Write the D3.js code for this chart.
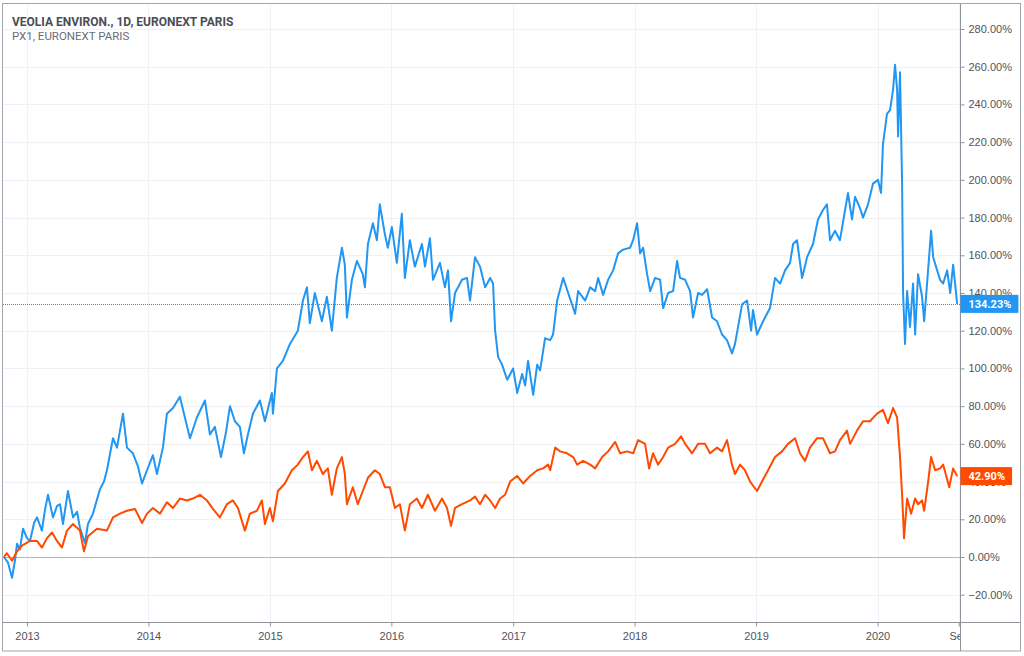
<!DOCTYPE html>
<html>
<head>
<meta charset="utf-8">
<script src="https://cdn.jsdelivr.net/npm/d3@7"></script>
<style>
  html, body { margin: 0; padding: 0; background: #fff; }
  svg { display: block; font-family: Roboto, "Open Sans", sans-serif; }
</style>
</head>
<body>
<svg id="chart"></svg>
<script>
// values; dates are decimal years, values are % change
const veoliaT = [2012.811, 2012.844, 2012.877, 2012.901, 2012.918, 2012.942, 2012.967, 2013.000, 2013.025, 2013.058,
  2013.082, 2013.123, 2013.148, 2013.173, 2013.214, 2013.247, 2013.272, 2013.296, 2013.337, 2013.379,
  2013.412, 2013.436, 2013.477, 2013.502, 2013.543, 2013.601, 2013.634, 2013.658, 2013.708, 2013.741,
  2013.790, 2013.823, 2013.872, 2013.914, 2013.947, 2013.988, 2014.037, 2014.070, 2014.119, 2014.152,
  2014.202, 2014.259, 2014.300, 2014.342, 2014.399, 2014.465, 2014.506, 2014.547, 2014.597, 2014.638,
  2014.671, 2014.712, 2014.753, 2014.786, 2014.819, 2014.860, 2014.918, 2014.959, 2015.016, 2015.025,
  2015.058, 2015.107, 2015.165, 2015.230, 2015.272, 2015.305, 2015.329, 2015.370, 2015.428, 2015.469,
  2015.510, 2015.551, 2015.593, 2015.617, 2015.634, 2015.675, 2015.716, 2015.765, 2015.782, 2015.807,
  2015.848, 2015.881, 2015.905, 2015.947, 2015.971, 2016.004, 2016.045, 2016.086, 2016.111, 2016.152,
  2016.193, 2016.251, 2016.276, 2016.317, 2016.342, 2016.399, 2016.440, 2016.465, 2016.490, 2016.523,
  2016.580, 2016.621, 2016.646, 2016.687, 2016.728, 2016.770, 2016.811, 2016.835, 2016.852, 2016.877,
  2016.909, 2016.951, 2017.000, 2017.033, 2017.074, 2017.099, 2017.123, 2017.165, 2017.198, 2017.222,
  2017.263, 2017.305, 2017.329, 2017.362, 2017.412, 2017.453, 2017.510, 2017.535, 2017.593, 2017.634,
  2017.675, 2017.700, 2017.741, 2017.782, 2017.823, 2017.864, 2017.905, 2017.963, 2017.988, 2018.021,
  2018.045, 2018.070, 2018.103, 2018.128, 2018.169, 2018.210, 2018.235, 2018.276, 2018.317, 2018.350,
  2018.374, 2018.416, 2018.457, 2018.481, 2018.523, 2018.556, 2018.597, 2018.638, 2018.679, 2018.720,
  2018.761, 2018.802, 2018.827, 2018.852, 2018.885, 2018.926, 2018.959, 2018.975, 2019.008, 2019.058,
  2019.115, 2019.156, 2019.198, 2019.239, 2019.280, 2019.305, 2019.337, 2019.379, 2019.420, 2019.469,
  2019.510, 2019.551, 2019.584, 2019.609, 2019.650, 2019.691, 2019.733, 2019.757, 2019.790, 2019.815,
  2019.856, 2019.881, 2019.922, 2019.963, 2020.004, 2020.029, 2020.045, 2020.078, 2020.103, 2020.128,
  2020.144, 2020.161, 2020.169, 2020.185, 2020.202, 2020.210, 2020.226, 2020.243, 2020.267, 2020.292,
  2020.309, 2020.333, 2020.366, 2020.383, 2020.407, 2020.440, 2020.457, 2020.490, 2020.514, 2020.539,
  2020.572, 2020.597, 2020.621, 2020.654];
const veoliaV = [0, -3, -11, -2, 7, 4, 15, 10, 8.5, 18,
  21, 14, 25, 33, 21, 27, 28, 17.5, 35, 21,
  24, 15.5, 7.4, 17.5, 23, 36, 40, 46, 63, 58,
  76, 58, 55, 48, 39, 46, 54, 44, 58, 76,
  79, 85, 74, 63, 74, 83, 65, 69, 53, 66,
  80, 72, 69, 55, 65, 76, 83, 72, 87, 76,
  100, 104, 113, 120, 136, 143, 124, 140, 125, 138,
  120, 148, 164, 155, 127, 147, 157, 150, 143, 166,
  177, 168, 187, 171, 164, 175, 156, 182, 148, 168,
  154, 166, 154, 169, 147, 156, 143, 152, 125, 140,
  147, 148, 136, 159, 154, 143, 148, 145, 120, 106,
  102, 94, 100, 87, 97, 91, 104, 86, 102, 99,
  116, 115, 118, 136, 148, 140, 129, 141, 136, 143,
  141, 148, 139, 147, 152, 161, 163, 164, 168, 177,
  161, 164, 150, 141, 148, 147, 132, 140, 141, 157,
  148, 147, 141, 127, 140, 139, 142, 127, 125, 118,
  115, 108, 113, 122, 134, 136, 120, 131, 118, 125,
  132, 148, 145, 152, 156, 166, 168, 148, 159, 166,
  179, 184, 187, 168, 173, 168, 184, 193, 179, 191,
  185, 180, 187, 198, 200, 193, 219, 235, 237, 248,
  261, 248, 223, 257, 198, 140, 113, 141, 122, 145,
  118, 150, 138, 125, 145, 173, 159, 152, 147, 145,
  152, 140, 155, 134.23];

const px1T = [2012.811, 2012.835, 2012.877, 2012.918, 2012.959, 2013.025, 2013.082, 2013.123, 2013.165, 2013.206,
  2013.247, 2013.288, 2013.329, 2013.379, 2013.436, 2013.469, 2013.502, 2013.576, 2013.658, 2013.708,
  2013.765, 2013.823, 2013.889, 2013.947, 2013.988, 2014.037, 2014.095, 2014.152, 2014.202, 2014.259,
  2014.317, 2014.366, 2014.424, 2014.481, 2014.531, 2014.588, 2014.646, 2014.695, 2014.737, 2014.794,
  2014.835, 2014.893, 2014.934, 2014.959, 2015.000, 2015.025, 2015.066, 2015.123, 2015.181, 2015.230,
  2015.272, 2015.313, 2015.346, 2015.387, 2015.436, 2015.477, 2015.510, 2015.551, 2015.593, 2015.617,
  2015.634, 2015.683, 2015.724, 2015.765, 2015.807, 2015.864, 2015.905, 2015.947, 2015.988, 2016.029,
  2016.070, 2016.111, 2016.152, 2016.210, 2016.251, 2016.300, 2016.358, 2016.416, 2016.457, 2016.490,
  2016.523, 2016.580, 2016.646, 2016.687, 2016.728, 2016.770, 2016.811, 2016.852, 2016.893, 2016.934,
  2016.975, 2017.033, 2017.082, 2017.140, 2017.198, 2017.247, 2017.288, 2017.305, 2017.346, 2017.387,
  2017.444, 2017.494, 2017.527, 2017.576, 2017.634, 2017.675, 2017.733, 2017.782, 2017.840, 2017.881,
  2017.938, 2017.988, 2018.029, 2018.086, 2018.119, 2018.152, 2018.193, 2018.235, 2018.276, 2018.333,
  2018.383, 2018.416, 2018.473, 2018.523, 2018.580, 2018.621, 2018.679, 2018.720, 2018.761, 2018.802,
  2018.827, 2018.868, 2018.909, 2018.951, 2019.008, 2019.049, 2019.099, 2019.156, 2019.214, 2019.263,
  2019.321, 2019.362, 2019.403, 2019.444, 2019.502, 2019.551, 2019.609, 2019.650, 2019.691, 2019.749,
  2019.774, 2019.831, 2019.881, 2019.938, 2019.996, 2020.045, 2020.086, 2020.128, 2020.161, 2020.185,
  2020.202, 2020.218, 2020.243, 2020.276, 2020.309, 2020.333, 2020.366, 2020.383, 2020.416, 2020.440,
  2020.473, 2020.514, 2020.539, 2020.589, 2020.621, 2020.654];
const px1V = [0, 2, -2, 3, 6, 8.5, 8.5, 5, 10, 13,
  8.5, 5, 14, 17.5, 14, 3, 11, 15, 14, 21,
  23, 24.5, 25.5, 18, 23, 26, 23, 29, 26, 31,
  30, 31, 33, 30, 25.5, 21, 28, 30, 26, 14,
  23, 24.5, 30, 17.5, 26, 19, 35, 39, 46, 49,
  53, 56, 46, 51, 44, 47, 33, 47, 53, 44,
  28, 37, 28, 35, 42, 46, 44, 37, 37, 26,
  28, 14, 28, 31, 26, 33, 24.5, 31, 26, 16.5,
  26, 28, 30, 32, 28, 33, 30, 26, 31, 33,
  40, 43, 39, 43, 46, 47, 49, 46, 58, 56,
  55, 53, 49, 51, 49, 47, 53, 56, 61, 55,
  56, 55, 62, 60, 47, 55, 49, 53, 58, 60,
  64, 60, 55, 60, 60, 55, 58, 56, 62, 49,
  44, 49, 46, 40, 35, 40, 46, 53, 56, 60,
  63, 55, 51, 58, 63, 63, 55, 56, 62, 67,
  60, 67, 72, 72, 76, 78, 71, 79, 74, 53,
  33, 10, 31, 23, 31, 28, 30, 24.5, 40, 53,
  46, 47, 49, 37, 47, 42.90];

const yTicks = [-20, 0, 20, 40, 60, 80, 100, 120, 140, 160, 180, 200, 220, 240, 260, 280];
const xTicks = ["2013-01-01", "2014-01-01", "2015-01-01", "2016-01-01", "2017-01-01",
  "2018-01-01", "2019-01-01", "2020-01-01", "2020-09-01"];
const xTickLabels = ["2013", "2014", "2015", "2016", "2017", "2018", "2019", "2020", "Sep"];
const veoliaLast = 134.23;
const px1Last = 42.90;
const titleMain = "VEOLIA ENVIRON., 1D, EURONEXT PARIS";
const titleSub = "PX1, EURONEXT PARIS";

const width = 1024, height = 656;
const plot = { left: 3, top: 3, right: 960.5, bottom: 622.5 };
const frame = { left: 2.5, top: 3.5, right: 1020.5, bottom: 651 };
const blue = "#2196f3", orange = "#ff4a00";
const textColor = "#50535e", lineColor = "#8f929b", gridColor = "#eff1f7";

function fromDecimalYear(t) {
  const yr = Math.floor(t);
  const a = new Date(yr, 0, 1), b = new Date(yr + 1, 0, 1);
  return new Date(+a + (t - yr) * (b - a));
}
const parse = d3.timeParse("%Y-%m-%d");

const veolia = veoliaT.map((t, i) => ({ date: fromDecimalYear(t), value: veoliaV[i] }));
const px1 = px1T.map((t, i) => ({ date: fromDecimalYear(t), value: px1V[i] }));
const tickDates = xTicks.map(parse);

const svg = d3.select("#chart").attr("width", width).attr("height", height);

const x = d3.scaleTime()
  .domain([new Date(2013, 0, 1), new Date(2020, 0, 1)])
  .range([27, 877.5]);
const y = d3.scaleLinear()
  .domain([0, 280])
  .range([557, 29]);

const defs = svg.append("defs");
defs.append("clipPath").attr("id", "plotclip")
  .append("rect")
  .attr("x", plot.left).attr("y", plot.top)
  .attr("width", plot.right - plot.left).attr("height", plot.bottom - plot.top);
//clip for x labels, in the translated axis group's own coordinates
defs.append("clipPath").attr("id", "xclip")
  .append("rect").attr("x", 0).attr("y", 0).attr("width", plot.right).attr("height", 28);

//grid
const grid = svg.append("g").attr("clip-path", "url(#plotclip)");
grid.selectAll(".vgrid").data(tickDates).enter().append("line")
  .attr("x1", d => Math.round(x(d)) + 0.5).attr("x2", d => Math.round(x(d)) + 0.5)
  .attr("y1", plot.top).attr("y2", plot.bottom)
  .attr("stroke", gridColor);
grid.selectAll(".hgrid").data(yTicks.filter(d => d !== 0)).enter().append("line")
  .attr("x1", plot.left).attr("x2", plot.right)
  .attr("y1", d => Math.round(y(d)) + 0.5).attr("y2", d => Math.round(y(d)) + 0.5)
  .attr("stroke", gridColor);

//zero line
svg.append("line")
  .attr("x1", plot.left).attr("x2", plot.right)
  .attr("y1", Math.round(y(0)) + 0.5).attr("y2", Math.round(y(0)) + 0.5)
  .attr("stroke", "#b4b7be");

//last value dotted line
svg.append("line")
  .attr("x1", plot.left).attr("x2", plot.right)
  .attr("y1", Math.round(y(veoliaLast)) + 0.5).attr("y2", Math.round(y(veoliaLast)) + 0.5)
  .attr("stroke", blue)
  .attr("stroke-dasharray", "1,1");

//series
const line = d3.line().x(d => x(d.date)).y(d => y(d.value));
const lines = svg.append("g").attr("clip-path", "url(#plotclip)");
lines.append("path").datum(veolia)
  .attr("d", line).attr("fill", "none")
  .attr("stroke", blue).attr("stroke-width", 2).attr("stroke-linejoin", "round");
lines.append("path").datum(px1)
  .attr("d", line).attr("fill", "none")
  .attr("stroke", orange).attr("stroke-width", 2).attr("stroke-linejoin", "round");

//axes
const yAxis = d3.axisRight(y)
  .tickValues(yTicks)
  .tickSize(4)
  .tickPadding(4)
  .tickFormat(d => d3.format(".2f")(d) + "%");
const yG = svg.append("g")
  .attr("transform", `translate(${plot.right},0)`)
  .call(yAxis);
yG.select(".domain").remove();
yG.selectAll("line").attr("stroke", lineColor);
yG.selectAll("text").attr("fill", textColor).style("font-size", "11px").attr("font-family", null);

const xAxis = d3.axisBottom(x)
  .tickValues(tickDates)
  .tickSize(4)
  .tickPadding(6)
  .tickFormat((d, i) => xTickLabels[i]);
const xG = svg.append("g")
  .attr("transform", `translate(0,${plot.bottom})`)
  .attr("clip-path", "url(#xclip)")
  .call(xAxis);
xG.select(".domain").remove();
xG.selectAll("line").attr("stroke", lineColor);
xG.selectAll("text").attr("fill", textColor).style("font-size", "11px").attr("font-family", null);

//frame and axis lines
svg.append("rect")
  .attr("x", frame.left).attr("y", frame.top)
  .attr("width", frame.right - frame.left).attr("height", frame.bottom - frame.top)
  .attr("fill", "none").attr("stroke", "#a3a6ae");
svg.append("line")
  .attr("x1", plot.right).attr("x2", plot.right)
  .attr("y1", frame.top).attr("y2", frame.bottom)
  .attr("stroke", lineColor);
svg.append("line")
  .attr("x1", frame.left).attr("x2", frame.right)
  .attr("y1", plot.bottom).attr("y2", plot.bottom)
  .attr("stroke", lineColor);

//last value labels
function lastLabel(value, color) {
  const g = svg.append("g").attr("transform", `translate(${plot.right},${y(value)})`);
  const t = g.append("text")
    .attr("x", 8).attr("dy", "0.35em")
    .attr("fill", "#fff")
    .style("font-size", "11px")
    .style("font-weight", "bold")
    .text(d3.format(".2f")(value) + "%");
  const w = t.node().getComputedTextLength();
  g.insert("rect", "text")
    .attr("x", 0).attr("y", -9)
    .attr("width", w + 15).attr("height", 18)
    .attr("fill", color);
}
lastLabel(veoliaLast, blue);
lastLabel(px1Last, orange);

//titles
svg.append("text")
  .attr("x", 12).attr("y", 26)
  .attr("fill", "#4a4d56")
  .style("font-size", "12px")
  .style("font-weight", "bold")
  .text(titleMain);
svg.append("text")
  .attr("x", 12).attr("y", 39.5)
  .attr("fill", "#6a6d76")
  .style("font-size", "11.5px")
  .text(titleSub);
</script>
</body>
</html>
